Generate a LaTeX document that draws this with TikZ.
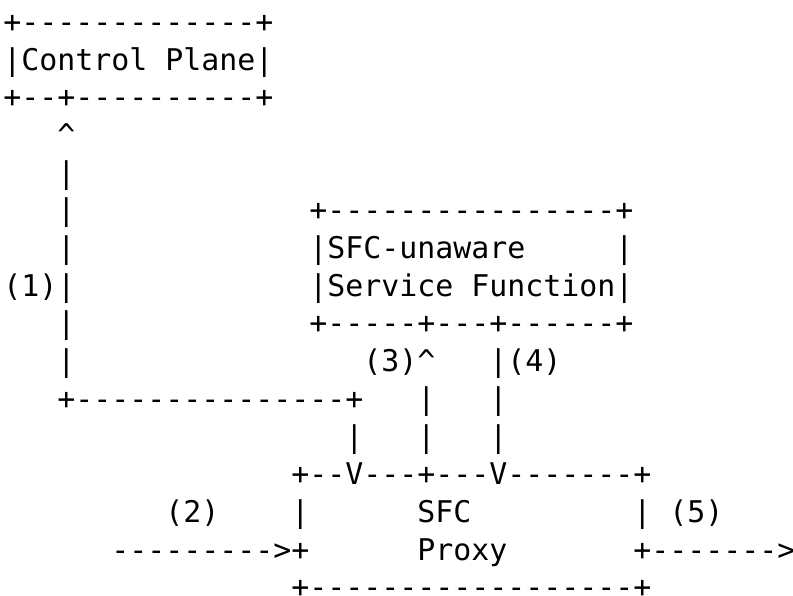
\documentclass[tikz,border=0pt]{standalone}
\usepackage{fontspec}
\setmonofont{DejaVu Sans Mono}

\begin{document}
\begin{tikzpicture}[x=9pt, y=-18.85pt]
\tikzset{CellStyle/.style = {anchor= base west, inner sep= 0pt, xshift= 1.5pt, yshift= 2.7pt, font= \ttfamily\fontsize{14.95}{18}\selectfont}
}

    \useasboundingbox (0pt,0pt) rectangle (396.5pt,-297.5pt);

    % Control plane box
   \node[CellStyle] (cpTop) at (0,1) {+-------------+};
   \node[CellStyle] (cpName) at (0,2) {|Control Plane|};
   \node[CellStyle] (cpBot) at (0,3) {+--+----------+};

    % Link (1)
   \node[CellStyle] (up1) at (3,4) {\textasciicircum};
   \foreach \r in {5,6,7,9,10} {
      \node[CellStyle] (bar1-\r) at (3,\r) {|};
   }
   \node[CellStyle] (lab1) at (0,8) {(1)|};
   \node[CellStyle] (link1) at (3,11) {+---------------+};
   \node[CellStyle] (bar1-12) at (19,12) {|};

    % Service function box
   \node[CellStyle] (sfTop) at (17,6) {+----------------+};
   \node[CellStyle] (sfName1) at (17,7) {|SFC-unaware};
   \node[CellStyle] (sfRight) at (34,7) {|};
   \node[CellStyle] (sfName2) at (17,8) {|Service Function|};
   \node[CellStyle] (sfBot) at (17,9) {+-----+---+------+};

    % Links (3) and (4)
   \node[CellStyle] (lab3) at (20,10) {(3)\textasciicircum};
   \node[CellStyle] (lab4) at (27,10) {|(4)};
   \foreach \r in {11,12} {
      \node[CellStyle] (bar3-\r) at (23,\r) {|};
      \node[CellStyle] (bar4-\r) at (27,\r) {|};
   }

    % Proxy box
   \node[CellStyle] (pxTop) at (16,13) {+--V---+---V-------+};
   \node[CellStyle] (pxLeft) at (16,14) {|};
   \node[CellStyle] (pxName1) at (23,14) {SFC};
   \node[CellStyle] (pxRight) at (35,14) {|};
   \node[CellStyle] (pxName2) at (23,15) {Proxy};
   \node[CellStyle] (pxBot) at (16,16) {+------------------+};

    % Links (2) and (5)
   \node[CellStyle] (lab2) at (9,14) {(2)};
   \node[CellStyle] (in2) at (6,15) {--------->+};
   \node[CellStyle] (lab5) at (37,14) {(5)};
   \node[CellStyle] (out5) at (35,15) {+------->};
\end{tikzpicture}
\end{document}
